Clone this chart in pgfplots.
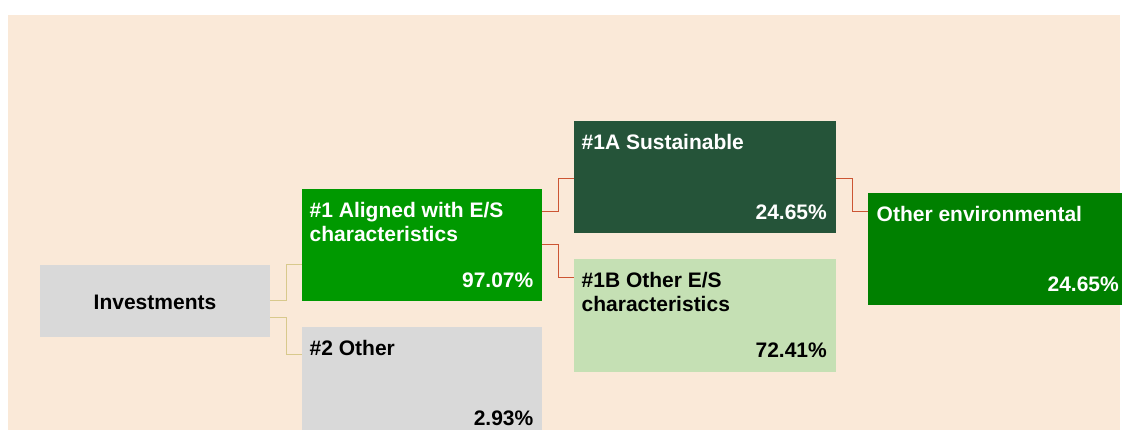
\documentclass[border=0pt]{standalone}
\usepackage{fontspec}
\setmainfont{Liberation Sans}
\usepackage{pgfplots}
\pgfplotsset{compat=1.18}

\definecolor{bgbeige}{HTML}{FAE9D8}
\definecolor{boxgray}{HTML}{D9D9D9}
\definecolor{green1}{HTML}{009900}
\definecolor{green1a}{HTML}{255439}
\definecolor{green1b}{HTML}{C5E0B4}
\definecolor{greenenv}{HTML}{008000}
\definecolor{tanline}{HTML}{D8C98C}
\definecolor{redline}{HTML}{CC5533}

\tikzset{lbl/.style={inner sep=0pt, font=\fontsize{21bp}{25bp}\selectfont\bfseries}}

% box: x1, y1, x2, y2 (pixel-like units, y downwards), fill colour
\newcommand{\tbox}[5]{%
  \addplot[fill=#5, draw=none, mark=none, forget plot]
    coordinates {(#1,#2) (#3,#2) (#3,#4) (#1,#4)};}

\begin{document}
\begin{tikzpicture}
\begin{axis}[
    scale only axis,
    width=1122bp, height=430bp,
    xmin=0, xmax=1122, ymin=0, ymax=430,
    y dir=reverse,
    hide axis,
    clip=true,
]
% background panel
\tbox{8}{15}{1120}{430}{bgbeige}

% boxes
\tbox{40}{265}{270}{336.5}{boxgray}    % Investments
\tbox{302}{189}{542}{300.5}{green1}    % #1
\tbox{302}{327}{542}{440}{boxgray}     % #2
\tbox{574}{121}{836}{232.5}{green1a}   % #1A
\tbox{574}{259}{836}{371.5}{green1b}   % #1B
\tbox{868}{193}{1130}{304.5}{greenenv} % Other environmental

% connectors
\addplot[tanline, line width=1pt, mark=none] coordinates {(270,300.5) (286,300.5) (286,264) (302,264)};
\addplot[tanline, line width=1pt, mark=none] coordinates {(270,317) (286,317) (286,354.5) (302,354.5)};
\addplot[redline, line width=1pt, mark=none] coordinates {(542,211) (558,211) (558,178) (574,178)};
\addplot[redline, line width=1pt, mark=none] coordinates {(542,244) (558,244) (558,277) (574,277)};
\addplot[redline, line width=1pt, mark=none] coordinates {(836,178) (852,178) (852,211) (868,211)};

% labels
\node[lbl, anchor=base] at (axis cs:155,309) {Investments};

\node[lbl, anchor=base west, text=white] at (axis cs:309.5,217) {\#1 Aligned with E/S};
\node[lbl, anchor=base west, text=white] at (axis cs:309.5,241) {characteristics};
\node[lbl, anchor=base east, text=white] at (axis cs:533.5,287) {97.07\%};

\node[lbl, anchor=base west] at (axis cs:309.5,355) {\#2 Other};
\node[lbl, anchor=base east] at (axis cs:533.5,425) {2.93\%};

\node[lbl, anchor=base west, text=white] at (axis cs:581.5,149) {\#1A Sustainable};
\node[lbl, anchor=base east, text=white] at (axis cs:827,219) {24.65\%};

\node[lbl, anchor=base west] at (axis cs:581.5,287) {\#1B Other E/S};
\node[lbl, anchor=base west] at (axis cs:581.5,311) {characteristics};
\node[lbl, anchor=base east] at (axis cs:827,357) {72.41\%};

\node[lbl, anchor=base west, text=white] at (axis cs:876.5,221) {Other environmental};
\node[lbl, anchor=base east, text=white] at (axis cs:1119,291) {24.65\%};
\end{axis}
\pgfresetboundingbox
\path (0,0) rectangle (1122bp,430bp);
\end{tikzpicture}
\end{document}
